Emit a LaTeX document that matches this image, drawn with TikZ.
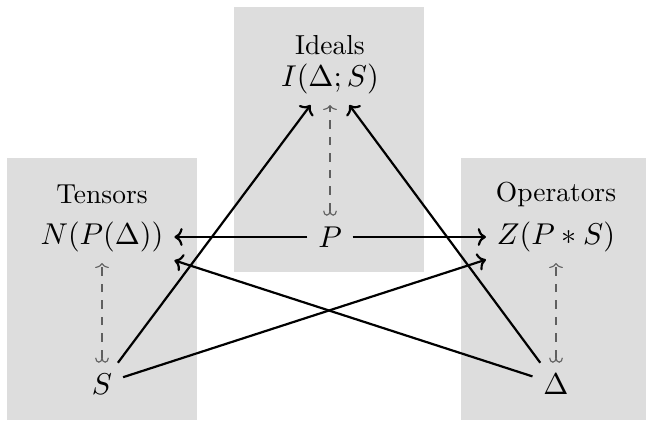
\documentclass[tikz,border=0pt]{standalone}
\usetikzlibrary{arrows.meta}
\definecolor{boxgray}{RGB}{221,221,221}
\definecolor{dashgray}{RGB}{95,95,95}
\begin{document}
\begin{tikzpicture}[x=0.364pt,y=-0.364pt,
  arr/.style={-{To[length=3pt,width=6.5pt]},line width=0.8pt,black},
  inc/.style={{Hooks[length=1.8pt,width=5pt]}-{To[length=1.8pt,width=5pt]},dashed,dashgray,line width=0.4pt},
  obj/.style={inner sep=2pt,outer sep=2pt,font=\fontsize{11}{13}\selectfont}]
\useasboundingbox (0,0) rectangle (646,420);
\fill[boxgray] (7,158) rectangle (197,420);
\fill[boxgray] (234,7) rectangle (424,272);
\fill[boxgray] (461,158) rectangle (646,420);
\node (tI) at (330,45) {Ideals};
\node (tN) at (102,194) {Tensors};
\node (tZ) at (556,194) {Operators};
\node[obj] (I) at (330,79) {$I(\Delta;S)$};
\node[obj] (N) at (102,237) {$N(P(\Delta))$};
\node[obj] (Z) at (556,237) {$Z(P*S)$};
\node[obj] (P) at (330,237) {$P$};
\node[obj] (S) at (102,384) {$S$};
\node[obj] (D) at (556,384) {$\Delta$};
\draw[arr] (P) -- (N);
\draw[arr] (P) -- (Z);
\draw[arr] (S) -- (I);
\draw[arr] (D) -- (I);
\draw[arr] (S) -- (Z);
\draw[arr] (D) -- (N);
\draw[inc] (P) -- (I);
\draw[inc] (S) -- (N);
\draw[inc] (D) -- (Z);
\end{tikzpicture}
\end{document}
